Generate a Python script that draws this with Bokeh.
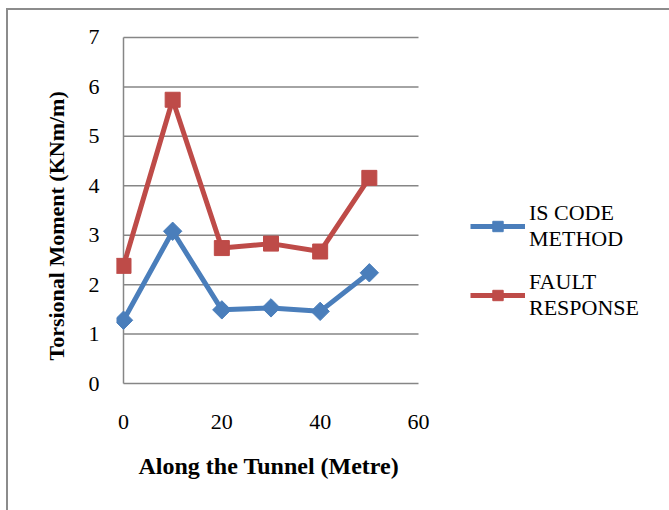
import numpy as np
from bokeh.plotting import figure
from bokeh.models import Legend, LegendItem, Range1d, FixedTicker, Title
from bokeh.embed import file_html
from bokeh.resources import INLINE

distance = [0, 10, 20, 30, 40, 50]
is_code = [1.28, 3.08, 1.49, 1.53, 1.46, 2.24]
fault = [2.38, 5.74, 2.74, 2.83, 2.67, 4.16]
x_ticks = [0, 20, 40, 60]
y_ticks = [0, 1, 2, 3, 4, 5, 6, 7]

BLUE = "#4a7ebb"
RED = "#be4b48"
GRID = "#868686"
FONT = "Liberation Serif"

X_MAX = 60
PX_PER_UNIT = 295 / 60          # data area 0..60 spans 295 px
LEFT_PAD = 7                    # px of frame left of x = 0
FRAME_W = 663 - 108 - 10
x_start = -LEFT_PAD / PX_PER_UNIT
x_end = x_start + FRAME_W / PX_PER_UNIT

p = figure(width=663, height=502, output_backend="svg", toolbar_location=None,
           x_range=Range1d(x_start, x_end), y_range=Range1d(-0.04, 7.04),
           min_border_left=108, min_border_right=10, min_border_top=25,
           min_border_bottom=127)
p.margin = (8, 0, 0, 6)
p.styles = {"border-left": "2px solid #8c8c8c", "border-top": "2px solid #8c8c8c"}
p.outline_line_color = None

p.xgrid.visible = False
p.ygrid.visible = False
# horizontal gridlines spanning only the data area 0..60
p.segment(x0=[0] * len(y_ticks), x1=[X_MAX] * len(y_ticks), y0=y_ticks, y1=y_ticks,
          line_color=GRID, line_width=1.5)
# vertical axis line at x = 0
p.segment(x0=[0], x1=[0], y0=[y_ticks[0]], y1=[y_ticks[-1]],
          line_color=GRID, line_width=1.5)

p.xaxis.ticker = FixedTicker(ticks=x_ticks)
p.yaxis.ticker = FixedTicker(ticks=y_ticks)
for ax in (p.xaxis, p.yaxis):
    ax.axis_line_color = None
    ax.major_tick_line_color = None
    ax.minor_tick_line_color = None
    ax.major_label_text_font = FONT
    ax.major_label_text_font_size = "22px"
    ax.major_label_text_color = "black"
p.xaxis.major_label_standoff = 23
p.yaxis.major_label_standoff = 11

p.add_layout(Title(text="Along the Tunnel (Metre)", text_font=FONT,
                   text_font_style="bold", text_font_size="24px", align="left",
                   offset=22, standoff=39, text_color="black"), "below")
p.add_layout(Title(text="Torsional Moment (KNm/m)", text_font=FONT,
                   text_font_style="bold", text_font_size="22px", align="left",
                   offset=25, standoff=33, text_color="black"), "left")

l1 = p.line(distance, is_code, line_color=BLUE, line_width=5)
m1 = p.scatter(distance, is_code, marker="square", angle=np.pi / 4, size=13,
               fill_color=BLUE, line_color=BLUE)
l2 = p.line(distance, fault, line_color=RED, line_width=5)
m2 = p.scatter(distance, fault, marker="square", size=15,
               fill_color=RED, line_color=RED)

legend = Legend(items=[
    LegendItem(label="IS CODE\nMETHOD", renderers=[l1, m1]),
    LegendItem(label="FAULT\nRESPONSE", renderers=[l2, m2]),
], location=(347 + LEFT_PAD, 64))
legend.border_line_color = None
legend.background_fill_alpha = 0
legend.padding = 0
legend.margin = 0
legend.spacing = 17
legend.glyph_width = 55
legend.glyph_height = 26
legend.label_standoff = 4
legend.label_text_font = FONT
legend.label_text_font_size = "22px"
legend.label_text_color = "black"
p.add_layout(legend, "center")

open("out.html", "w").write(file_html(p, INLINE))
